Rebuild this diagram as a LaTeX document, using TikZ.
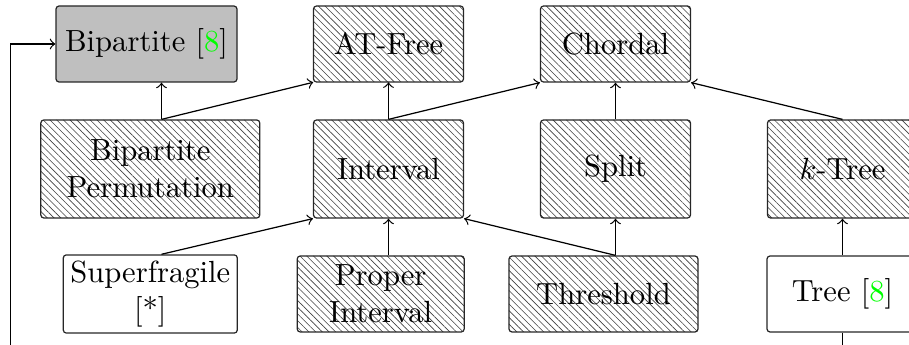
\documentclass[tikz,border=0pt]{standalone}
\usetikzlibrary{patterns.meta}
\begin{document}
\begin{tikzpicture}[x=0.3268pt,y=-0.3268pt,
  box/.style={draw=black!85, rounded corners=1pt, inner sep=2pt, align=center, minimum height=24.84pt},
  tall/.style={minimum height=32.03pt},
  hatch/.style={pattern={Lines[angle=-45,distance=1.55pt,line width=0.2pt]}, pattern color=black!75},
  conn/.style={->, line width=0.4pt}]
\useasboundingbox (0,0) rectangle (909,345);
\clip (0,0) rectangle (909,345);
% row 1
\node[box, fill=lightgray, minimum width=59.15pt] (bip) at (146.5,44) {Bipartite [\textcolor{green}{8}]};
\node[box, hatch, minimum width=49.02pt] (atf) at (388.5,44) {AT-Free};
\node[box, hatch, minimum width=49.02pt] (cho) at (615.5,44) {Chordal};
% row 2
\node[box, tall, hatch, minimum width=71.57pt] (bpp) at (150.3,169) {Bipartite\\Permutation};
\node[box, tall, hatch, minimum width=49.02pt] (int) at (388.5,169) {Interval};
\node[box, tall, hatch, minimum width=49.02pt] (spl) at (615.5,169) {Split};
\node[box, tall, hatch, minimum width=49.02pt] (ktr) at (842.5,169) {$k$-Tree};
% row 3
\node[box, minimum width=56.86pt] (sup) at (150.3,294) {Superfragile\\{[*]}};
\node[box, hatch, minimum width=54.58pt] (pin) at (380.7,294) {Proper\\Interval};
\node[box, hatch, minimum width=61.77pt] (thr) at (603.5,294) {Threshold};
\node[box, minimum width=49.35pt] (tre) at (842.5,294) {Tree [\textcolor{green}{8}]};
% columns
\coordinate (c0) at (161.5,0);
\coordinate (c1) at (388.5,0);
\coordinate (c2) at (615.5,0);
\coordinate (low) at (10.5,400);
% edges
\draw[conn] (bpp.north -| c0) -- (bip.south -| c0);
\draw[conn] (bpp.north -| c0) -- (atf.south west);
\draw[conn] (int.north) -- (atf.south);
\draw[conn] (int.north) -- (cho.south west);
\draw[conn] (spl.north) -- (cho.south);
\draw[conn] (ktr.north) -- (cho.south east);
\draw[conn] (sup.north -| c0) -- (int.south west);
\draw[conn] (pin.north -| c1) -- (int.south);
\draw[conn] (thr.north -| c2) -- (int.south east);
\draw[conn] (thr.north -| c2) -- (spl.south -| c2);
\draw[conn] (tre.north) -- (ktr.south);
\draw[conn] (tre.south) |- (low) |- (bip.west);
\end{tikzpicture}
\end{document}
